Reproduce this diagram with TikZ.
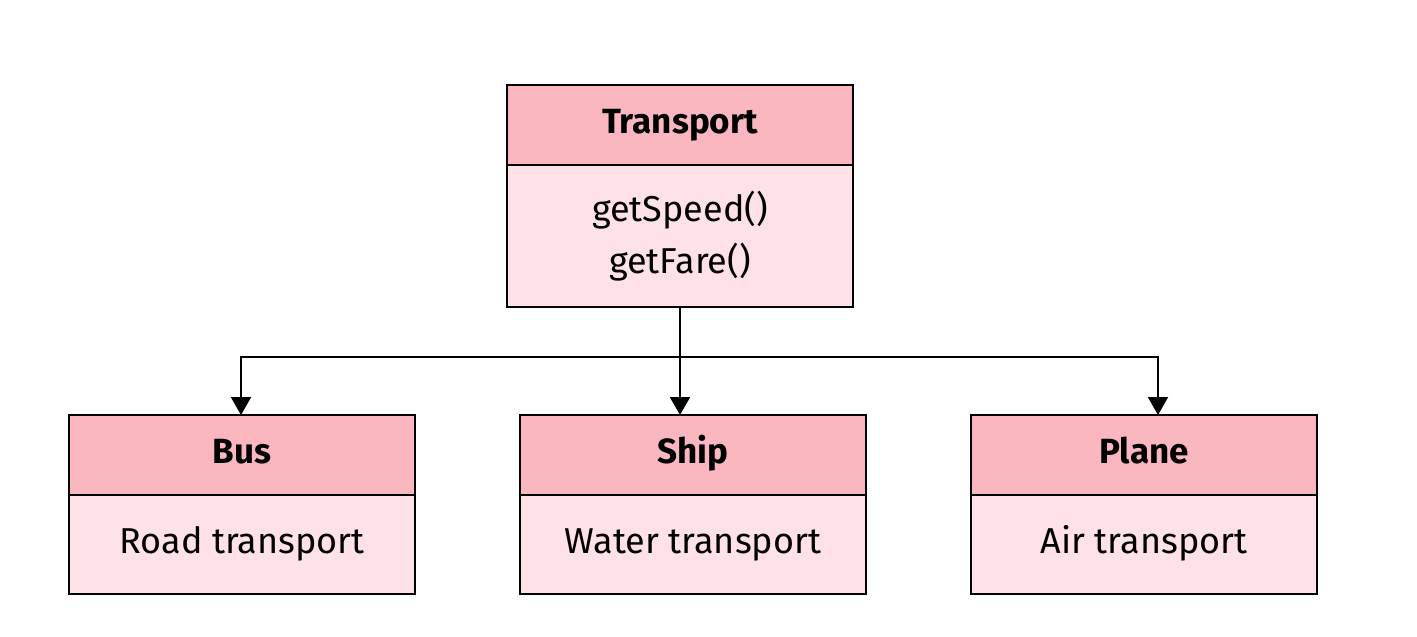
\documentclass[tikz,border=0pt]{standalone}
\usepackage{fontspec}
\setmainfont{Fira Sans}
\usetikzlibrary{arrows.meta}
\definecolor{hdr}{HTML}{FBB7C0}
\definecolor{bdy}{HTML}{FFE2E7}
\tikzset{
  hdrbox/.style={draw=black, line width=2pt, fill=hdr, minimum width=346pt, minimum height=80pt, inner sep=0pt, outer sep=0pt, font=\fontsize{35}{40}\selectfont\bfseries, text height=25pt, text depth=8pt, anchor=north},
  bdybox/.style={draw=black, line width=2pt, fill=bdy, minimum width=346pt, inner sep=0pt, outer sep=0pt, font=\fontsize{36}{52}\selectfont, align=center, anchor=north},
  onebody/.style={bdybox, minimum height=99pt, text height=26pt, text depth=8pt},
  conn/.style={line width=2pt, -{Triangle[width=20pt,length=18pt]}},
}
\begin{document}
\begin{tikzpicture}[x=1pt,y=-1pt]
\useasboundingbox (0,0) rectangle (1417,637);
\node[hdrbox] (th) at (680,85) {Transport};
\node[bdybox, minimum height=142pt] (tb) at (th.south) {getSpeed()\\getFare()};
\node[hdrbox] (bh) at (242,415) {Bus};
\node[onebody] (bb) at (bh.south) {Road transport};
\node[hdrbox] (sh) at (693,415) {Ship};
\node[onebody] (sb) at (sh.south) {Water transport};
\node[hdrbox] (ph) at (1144,415) {Plane};
\node[onebody] (pb) at (ph.south) {Air transport};
\coordinate (j) at (680,357);
\coordinate (jl) at (241,357);
\coordinate (jr) at (1158,357);
\draw[line width=2pt] (tb.south) -- (j);
\draw[conn] (j) -- (jl) -- (jl |- bh.north);
\draw[conn] (j) -- (j |- sh.north);
\draw[conn] (j) -- (jr) -- (jr |- ph.north);
\end{tikzpicture}
\end{document}
